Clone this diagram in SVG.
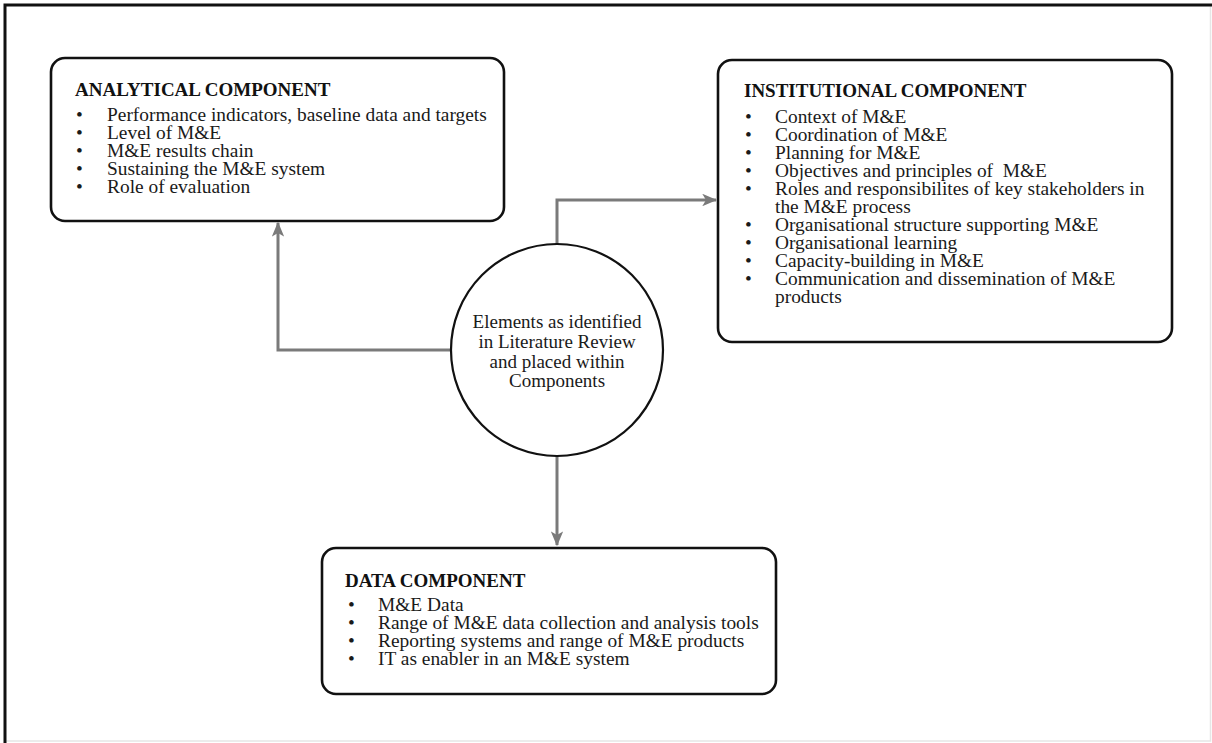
<svg xmlns="http://www.w3.org/2000/svg" width="1212" height="743" viewBox="0 0 1212 743">
  <style>
    .frame { fill: none; stroke: #111; stroke-width: 3; }
    .frame-faint { fill: none; stroke: #e6e6e6; stroke-width: 1.5; }
    .box { fill: #fff; stroke: #111; stroke-width: 2.6; }
    .hub { fill: #fff; stroke: #111; stroke-width: 2.2; }
    .link { fill: none; stroke: #7a7a7a; stroke-width: 3; }
    .title { font-family: "Liberation Serif", "Times New Roman", serif; font-weight: bold; font-size: 19px; fill: #111; }
    .item { font-family: "Liberation Serif", "Times New Roman", serif; font-size: 19.4px; fill: #1a1a1a; }
    .hub-text { font-family: "Liberation Serif", "Times New Roman", serif; font-size: 19px; fill: #1a1a1a; text-anchor: middle; }
  </style>
  <defs>
    <marker id="arrow" viewBox="0 0 12 10" refX="11" refY="5" markerWidth="5" markerHeight="4.2" orient="auto" markerUnits="strokeWidth">
      <path d="M0,0 L12,5 L0,10 L3,5 z" fill="#7a7a7a"/>
    </marker>
  </defs>

  <rect width="1212" height="743" fill="#fff"/>

  <!-- page frame -->
  <g id="frame">
    <path class="frame-faint" d="M1210.5,5 V741 H5"/>
    <path class="frame" d="M5,743 V5 H1212"/>
  </g>

  <!-- connectors from the hub to the three components -->
  <g id="connectors">
    <path class="link" d="M451,350 H278 V223" marker-end="url(#arrow)"/>
    <path class="link" d="M557,244 V200 H716" marker-end="url(#arrow)"/>
    <path class="link" d="M557,456 V545" marker-end="url(#arrow)"/>
  </g>

  <!-- analytical component -->
  <g id="analytical">
    <rect class="box" x="51" y="58" width="453" height="163" rx="14"/>
    <text class="title" x="75" y="96">ANALYTICAL COMPONENT</text>
    <g class="item">
      <text x="76" y="121">•</text><text x="107" y="121">Performance indicators, baseline data and targets</text>
      <text x="76" y="139">•</text><text x="107" y="139">Level of M&amp;E</text>
      <text x="76" y="157">•</text><text x="107" y="157">M&amp;E results chain</text>
      <text x="76" y="175">•</text><text x="107" y="175">Sustaining the M&amp;E system</text>
      <text x="76" y="193">•</text><text x="107" y="193">Role of evaluation</text>
    </g>
  </g>

  <!-- institutional component -->
  <g id="institutional">
    <rect class="box" x="718" y="60" width="454" height="282" rx="14"/>
    <text class="title" x="744" y="97">INSTITUTIONAL COMPONENT</text>
    <g class="item">
      <text x="745" y="123">•</text><text x="775" y="123">Context of M&amp;E</text>
      <text x="745" y="141">•</text><text x="775" y="141">Coordination of M&amp;E</text>
      <text x="745" y="159">•</text><text x="775" y="159">Planning for M&amp;E</text>
      <text x="745" y="177">•</text><text x="775" y="177">Objectives and principles of&#160; M&amp;E</text>
      <text x="745" y="195">•</text><text x="775" y="195">Roles and responsibilites of key stakeholders in</text>
      <text x="775" y="213">the M&amp;E process</text>
      <text x="745" y="231">•</text><text x="775" y="231">Organisational structure supporting M&amp;E</text>
      <text x="745" y="249">•</text><text x="775" y="249">Organisational learning</text>
      <text x="745" y="267">•</text><text x="775" y="267">Capacity-building in M&amp;E</text>
      <text x="745" y="285">•</text><text x="775" y="285">Communication and dissemination of M&amp;E</text>
      <text x="775" y="303">products</text>
    </g>
  </g>

  <!-- central hub -->
  <g id="hub">
    <circle class="hub" cx="557" cy="350" r="106"/>
    <text class="hub-text" x="557" y="328">Elements as identified</text>
    <text class="hub-text" x="557" y="348">in Literature Review</text>
    <text class="hub-text" x="557" y="368">and placed within</text>
    <text class="hub-text" x="557" y="387">Components</text>
  </g>

  <!-- data component -->
  <g id="data">
    <rect class="box" x="322" y="548" width="454" height="146" rx="14"/>
    <text class="title" x="345" y="587">DATA COMPONENT</text>
    <g class="item">
      <text x="348" y="611">•</text><text x="378" y="611">M&amp;E Data</text>
      <text x="348" y="629">•</text><text x="378" y="629">Range of M&amp;E data collection and analysis tools</text>
      <text x="348" y="647">•</text><text x="378" y="647">Reporting systems and range of M&amp;E products</text>
      <text x="348" y="665">•</text><text x="378" y="665">IT as enabler in an M&amp;E system</text>
    </g>
  </g>
</svg>
